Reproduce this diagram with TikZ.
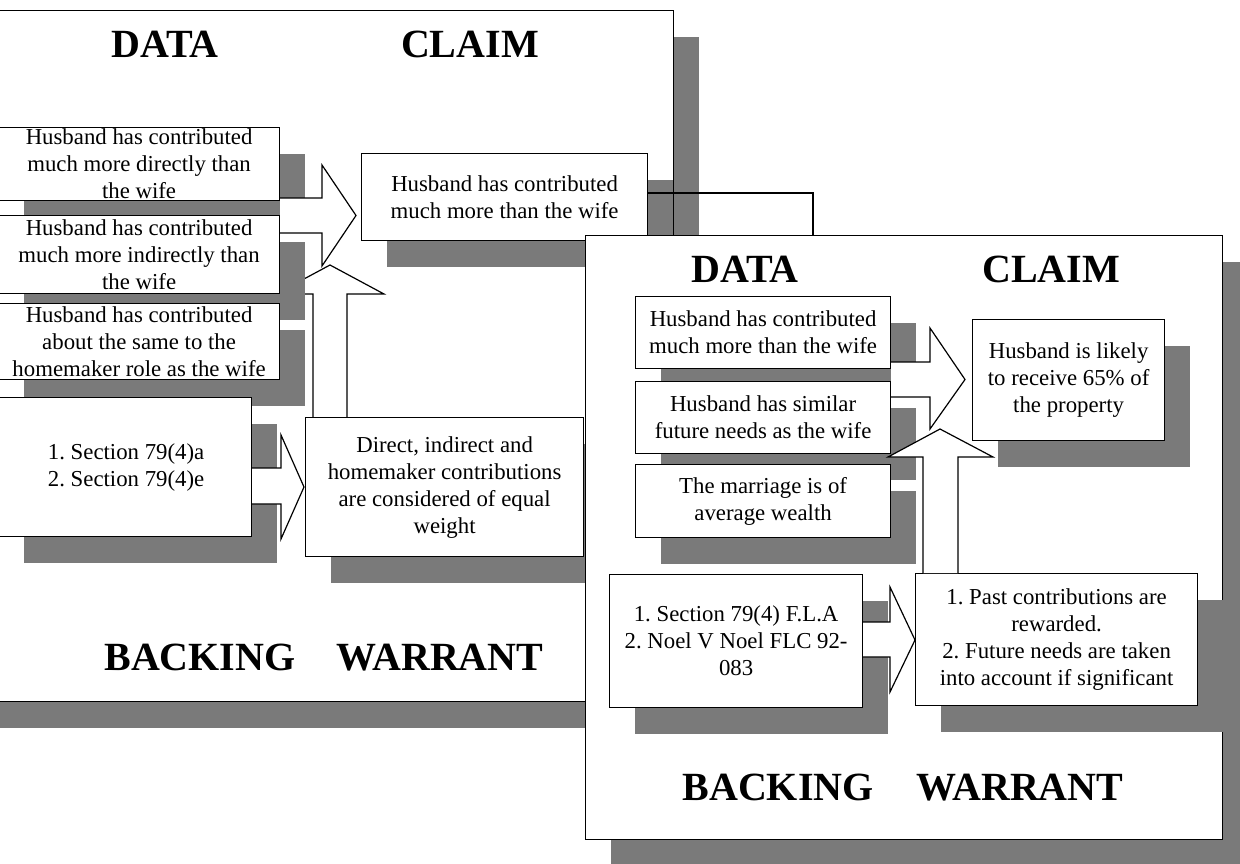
\documentclass[tikz,border=0pt]{standalone}
\usepackage{fontspec}
\setmainfont{Liberation Serif}
\usetikzlibrary{shadows,calc}
\frenchspacing
\begin{document}
\begin{tikzpicture}[x=1pt,y=-1pt,
  shadowed/.style={drop shadow={shadow xshift=25pt,shadow yshift=-26pt,fill=black!52,opacity=1}},
  frame/.style={draw,line width=1.2pt,fill=white,inner sep=0pt,anchor=north west,shadowed},
  box/.style={draw,line width=1.2pt,fill=white,inner sep=0pt,anchor=north west,shadowed},
  txt/.style={align=center,inner sep=0pt,font=\fontsize{22.8}{27}\selectfont},
  head/.style={anchor=base,inner sep=0pt,font=\fontsize{40}{44}\selectfont\bfseries},
  barrow/.style={draw,fill=white,line width=1.2pt,line join=miter},
  conn/.style={draw,line width=1.2pt}]
\useasboundingbox (0,0) rectangle (1240,863);
\clip (0,0) rectangle (1240,863);

% ---------------- left panel ----------------
\node[frame,minimum width=703pt,minimum height=691pt] (lframe) at (-30,10) {};
\node[head] (ldata) at (165,57) {DATA};
\node[head] (lclaimh) at (470,57) {CLAIM};
\node[head] (lback) at (200,670) {BACKING};
\node[head] (lwarr) at (440,670) {WARRANT};

\node[box,minimum width=286pt,minimum height=87pt] (claimL) at (361,153) {};
\node[txt] (claimLt) at (claimL.center) {Husband has contributed\\much more than the wife};

\coordinate (cend) at (813,245);
\draw[conn] (claimL.east |- 0,193) -| (cend);

\coordinate (wtop) at (444,417);
\draw[barrow] (313,0 |- wtop) -- (313,294) -- (276,294) -- (330,265) -- (384,294) -- (347,294) -- (347,0 |- wtop);

\node[box,minimum width=281pt,minimum height=73pt] (d1) at (-2,127) {};
\node[txt] (d1t) at (d1.center) {Husband has contributed\\much more directly than\\the wife};
\node[box,minimum width=281pt,minimum height=78pt] (d2) at (-2,215) {};
\node[txt] (d2t) at (d2.center) {Husband has contributed\\much more indirectly than\\the wife};
\node[box,minimum width=281pt,minimum height=76pt] (d3) at (-2,303) {};
\node[txt] (d3t) at (d3.center) {Husband has contributed\\about the same to the\\homemaker role as the wife};

\draw[barrow] (d1.east |- 0,198) -- (322,198) -- (322,165) -- (356,215.5) -- (322,266) -- (322,233) -- (d1.east |- 0,233);

\node[box,minimum width=253pt,minimum height=139pt] (backL) at (-2,397) {};
\node[txt] (backLt) at ($(backL.center)+(1,0)$) {1. Section 79(4)a\\2. Section 79(4)e};
\draw[barrow] (backL.east |- 0,468) -- (281,468) -- (281,435) -- (304,487) -- (281,539) -- (281,504) -- (backL.east |- 0,504);
\node[box,minimum width=278pt,minimum height=139pt] (warrL) at (305,417) {};
\node[txt] (warrLt) at (warrL.center) {Direct, indirect and\\homemaker contributions\\are considered of equal\\weight};

% ---------------- right panel ----------------
\node[frame,minimum width=637pt,minimum height=604pt] (rframe) at (585,235) {};
\node[head] (rdata) at (745,282) {DATA};
\node[head] (rclaimh) at (1051,282) {CLAIM};
\node[head] (rback) at (778,800) {BACKING};
\node[head] (rwarr) at (1020,800) {WARRANT};

\node[box,minimum width=255pt,minimum height=72pt] (dA) at (635,296) {};
\node[txt] (dAt) at (dA.center) {Husband has contributed\\much more than the wife};
\node[box,minimum width=255pt,minimum height=72pt] (dB) at (635,381) {};
\node[txt] (dBt) at (dB.center) {Husband has similar\\future needs as the wife};
\node[box,minimum width=255pt,minimum height=73pt] (dC) at (635,464) {};
\node[txt] (dCt) at (dC.center) {The marriage is of\\average wealth};

\node[box,minimum width=192pt,minimum height=121pt] (claimR) at (972,319) {};
\node[txt] (claimRt) at (claimR.center) {Husband is likely\\to receive 65\% of\\the property};

\draw[barrow] (dA.east |- 0,362) -- (930,362) -- (930,328) -- (965,379.5) -- (930,429) -- (930,397) -- (dA.east |- 0,397);

\node[box,minimum width=253pt,minimum height=133pt] (backR) at (609,574) {};
\node[txt] (backRt) at (backR.center) {1. Section 79(4) F.L.A\\2. Noel V Noel FLC 92-\\083};
\node[box,minimum width=282pt,minimum height=132pt] (warrR) at (915,573) {};
\node[txt] (warrRt) at (warrR.center) {1. Past contributions are\\rewarded.\\2. Future needs are taken\\into account if significant};

\draw[barrow] (923,0 |- warrR.north) -- (923,457) -- (888,457) -- (940,429) -- (993,457) -- (958,457) -- (958,0 |- warrR.north);
\draw[barrow] (backR.east |- 0,622) -- (890,622) -- (890,587) -- (915,640) -- (890,692) -- (890,657) -- (backR.east |- 0,657);
\end{tikzpicture}
\end{document}
